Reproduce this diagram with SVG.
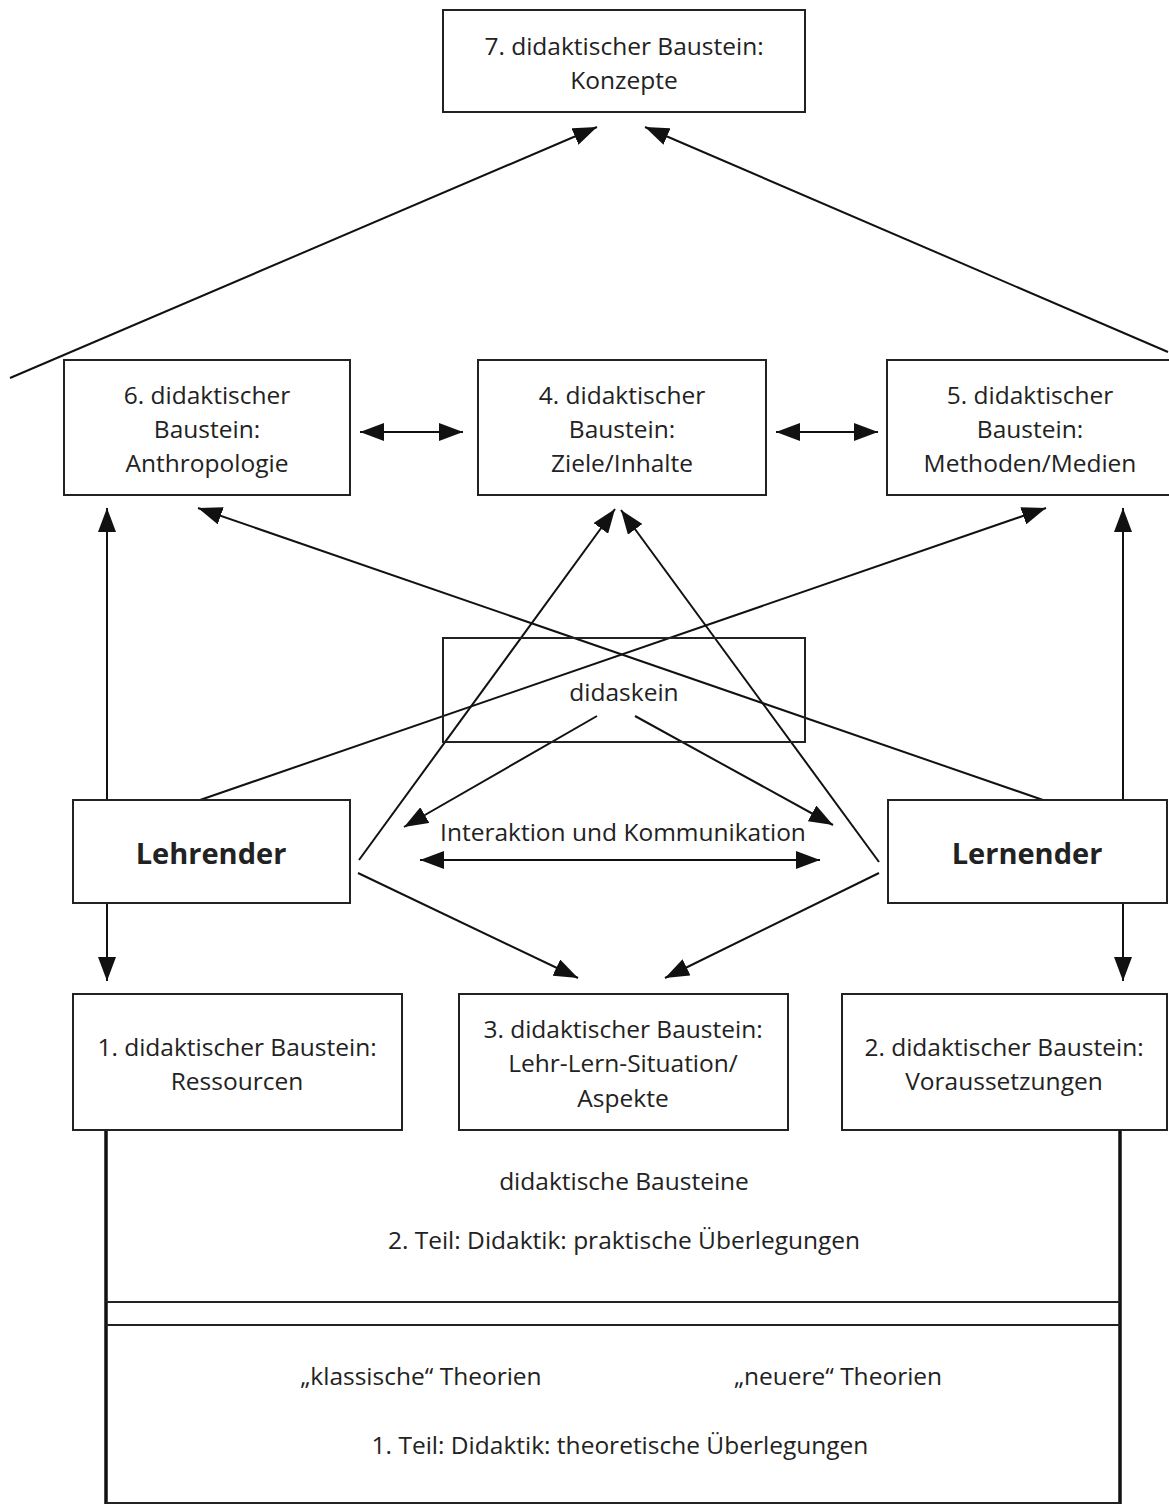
<svg xmlns="http://www.w3.org/2000/svg" width="1169" height="1504" viewBox="0 0 1169 1504">
<defs>
<style>
.box{fill:#fff;stroke:#222;stroke-width:2}
.t{font-family:"Open Sans","Liberation Sans",sans-serif;font-size:24.5px;fill:#222;text-anchor:middle}
.b{font-weight:bold;font-size:29px}
.c{stroke:#111;stroke-width:2;fill:none}
.thick{stroke:#111;stroke-width:3.5;fill:none}
.thin{stroke:#222;stroke-width:2;fill:none}
</style>
<marker id="ah" markerUnits="userSpaceOnUse" markerWidth="24" markerHeight="18" viewBox="0 0 24 18" refX="24" refY="9" orient="auto-start-reverse">
<path d="M0,0 L24,9 L0,18 z" fill="#111"/>
</marker>
</defs>
<rect width="1169" height="1504" fill="#fff"/>

<g id="connectors">
<line class="c" x1="10" y1="378" x2="597" y2="127" marker-end="url(#ah)"/>
<line class="c" x1="1168" y1="352" x2="645" y2="127" marker-end="url(#ah)"/>
<line class="c" x1="360" y1="432" x2="463" y2="432" marker-start="url(#ah)" marker-end="url(#ah)"/>
<line class="c" x1="776" y1="432" x2="878" y2="432" marker-start="url(#ah)" marker-end="url(#ah)"/>
<line class="c" x1="107" y1="800" x2="107" y2="508" marker-end="url(#ah)"/>
<line class="c" x1="1123" y1="800" x2="1123" y2="508" marker-end="url(#ah)"/>
<line class="c" x1="107" y1="903" x2="107" y2="981" marker-end="url(#ah)"/>
<line class="c" x1="1123" y1="903" x2="1123" y2="981" marker-end="url(#ah)"/>
<line class="c" x1="200" y1="800" x2="1046" y2="508" marker-end="url(#ah)"/>
<line class="c" x1="1043" y1="800" x2="198" y2="508" marker-end="url(#ah)"/>
<line class="c" x1="359" y1="860" x2="615" y2="509" marker-end="url(#ah)"/>
<line class="c" x1="879" y1="862" x2="621" y2="510" marker-end="url(#ah)"/>
<line class="c" x1="597" y1="716" x2="404" y2="827" marker-end="url(#ah)"/>
<line class="c" x1="635" y1="716" x2="833" y2="825" marker-end="url(#ah)"/>
<line class="c" x1="420" y1="860" x2="820" y2="860" marker-start="url(#ah)" marker-end="url(#ah)"/>
<line class="c" x1="358" y1="873" x2="578" y2="978" marker-end="url(#ah)"/>
<line class="c" x1="879" y1="873" x2="665" y2="978" marker-end="url(#ah)"/>
</g>

<g id="n7"><rect class="box" x="443" y="10" width="362" height="102"/>
<text class="t" x="624" y="55">7. didaktischer Baustein:</text>
<text class="t" x="624" y="89">Konzepte</text></g>

<g id="n6"><rect class="box" x="64" y="360" width="286" height="135"/>
<text class="t" x="207" y="404">6. didaktischer</text>
<text class="t" x="207" y="438">Baustein:</text>
<text class="t" x="207" y="472">Anthropologie</text></g>

<g id="n4"><rect class="box" x="478" y="360" width="288" height="135"/>
<text class="t" x="622" y="404">4. didaktischer</text>
<text class="t" x="622" y="438">Baustein:</text>
<text class="t" x="622" y="472">Ziele/Inhalte</text></g>

<g id="n5"><rect class="box" x="887" y="360" width="290" height="135"/>
<text class="t" x="1030" y="404">5. didaktischer</text>
<text class="t" x="1030" y="438">Baustein:</text>
<text class="t" x="1030" y="472">Methoden/Medien</text></g>

<g id="didaskein"><rect x="443" y="638" width="362" height="104" fill="none" stroke="#222" stroke-width="2"/>
<text class="t" x="624" y="701">didaskein</text></g>

<text class="t" x="623" y="841">Interaktion und Kommunikation</text>

<g id="lehrender"><rect class="box" x="73" y="800" width="277" height="103"/>
<text class="t b" x="211" y="864">Lehrender</text></g>

<g id="lernender"><rect class="box" x="888" y="800" width="279" height="103"/>
<text class="t b" x="1027" y="864">Lernender</text></g>

<g id="n1"><rect class="box" x="73" y="994" width="329" height="136"/>
<text class="t" x="237" y="1056">1. didaktischer Baustein:</text>
<text class="t" x="237" y="1090">Ressourcen</text></g>

<g id="n3"><rect class="box" x="459" y="994" width="329" height="136"/>
<text class="t" x="623" y="1038">3. didaktischer Baustein:</text>
<text class="t" x="623" y="1072">Lehr-Lern-Situation/</text>
<text class="t" x="623" y="1107">Aspekte</text></g>

<g id="n2"><rect class="box" x="842" y="994" width="325" height="136"/>
<text class="t" x="1004" y="1056">2. didaktischer Baustein:</text>
<text class="t" x="1004" y="1090">Voraussetzungen</text></g>

<g id="base">
<line class="thick" x1="106" y1="1131" x2="106" y2="1504"/>
<line class="thick" x1="1120" y1="1131" x2="1120" y2="1504"/>
<line class="thin" x1="106" y1="1302" x2="1120" y2="1302"/>
<line class="thin" x1="106" y1="1325" x2="1120" y2="1325"/>
<line class="thin" x1="106" y1="1503" x2="1120" y2="1503"/>
<text class="t" x="624" y="1190">didaktische Bausteine</text>
<text class="t" x="624" y="1249">2. Teil: Didaktik: praktische Überlegungen</text>
<text class="t" x="421" y="1385">„klassische“ Theorien</text>
<text class="t" x="838" y="1385">„neuere“ Theorien</text>
<text class="t" x="620" y="1454">1. Teil: Didaktik: theoretische Überlegungen</text>
</g>
</svg>
